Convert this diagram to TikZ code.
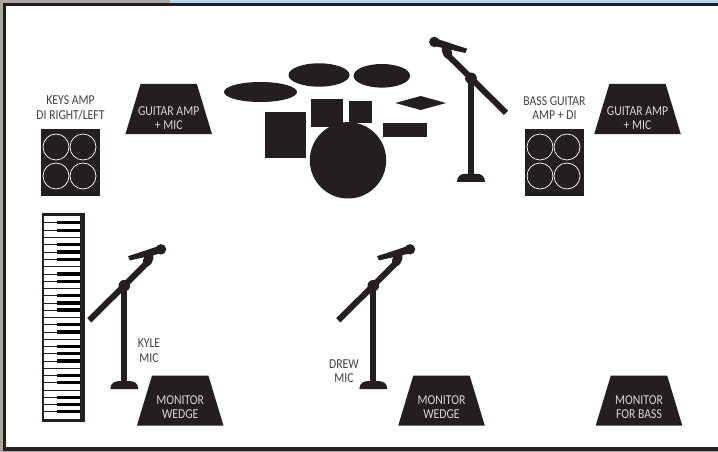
\documentclass[tikz,border=0pt]{standalone}
\usepackage{fontspec}
\usepackage{xcolor}
\usepackage{tikz}
\usetikzlibrary{positioning}
\usetikzlibrary{shapes.geometric}
\setmainfont{Carlito}
\definecolor{ink}{HTML}{231F20}
\definecolor{wall}{HTML}{A9A6A4}
\definecolor{sky}{HTML}{B9D3E6}
\definecolor{wedgetxt}{HTML}{D8D6D6}
\tikzset{
	wedge/.style={trapezium, fill=ink, inner sep=1pt, trapezium left angle=75, trapezium right angle=75, trapezium stretches=true, minimum width=86.5pt, minimum height=50pt},
	wedgetext/.style={align=center, text=wedgetxt, font=\fontsize{13.6}{14}\selectfont, xscale=0.86, inner sep=0},
	tag/.style={align=center, text=ink!85, font=\fontsize{13.6}{14.5}\selectfont, xscale=0.86, inner sep=0},
	kit/.style={fill=ink, draw=none},
	cone/.style={draw=white, line width=0.7pt},
	micstand/.pic={
		\fill[ink] (-14,103.5) .. controls (-14,97) and (-9,95.5) .. (-6,95.5) -- (6,95.5) .. controls (9,95.5) and (14,97) .. (14,103.5) -- cycle;
		\draw[ink, line width=6pt] (0,0) -- (0,100);
		\draw[ink, line width=6pt] (-35,34.6) -- (24,-24);
		\fill[ink] (0,0) circle (5.8);
		\draw[ink, line width=9pt, line cap=round] (25,-29) -- (23,-24);
		\fill[ink] (36.7,-36.4) circle (5.2);
		\fill[ink] (35.5,-40) -- (37.8,-32.5) -- (5.6,-25.3) -- (3.8,-29.5) -- cycle;
	}
}

\begin{document}
\begin{tikzpicture}[x=1pt, y=-1pt]
\useasboundingbox (0,0) rectangle (718,452);
\fill[wall] (0,0) rectangle (718,452);
\fill[sky] (170,0) rectangle (718,4);
\fill[ink] (2.5,3.3) rectangle (718,451);
\fill[white] (6,6) rectangle (718,447);

% speakers
\foreach \nm/\x in {keys/41, bass/525}
	{\fill[ink] (\x,129) rectangle (\x+59,196);
	\foreach \cx in {15,42}
		\foreach \cy in {147,176}
			\draw[cone] (\x+\cx,\cy) circle (13);}
\node[tag](keystext) at (70.5,108) {KEYS AMP\\DI RIGHT/LEFT};
\node[tag](basstext) at (554.5,108) {BASS GUITAR\\AMP + DI};

% wedges
\node[wedge](amp1) at (168.7,109) {};
\node[wedge](amp2) at (637.5,109) {};
\node[wedge](mon1) at (180.2,400.5) {};
\node[wedge](mon2) at (441.5,400.5) {};
\node[wedge](mon3) at (639,400.5) {};
\node[wedgetext](amp1text) at (168.7,118) {GUITAR AMP\\+ MIC};
\node[wedgetext](amp2text) at (637.5,118) {GUITAR AMP\\+ MIC};
\node[wedgetext](mon1text) at (180.2,407.5) {MONITOR\\WEDGE};
\node[wedgetext](mon2text) at (441.5,407.5) {MONITOR\\WEDGE};
\node[wedgetext](mon3text) at (639,407.5) {MONITOR\\FOR BASS};

% drums
\fill[kit] (260.5,92) ellipse (36.5 and 10);
\fill[kit] (319,75) ellipse (30.5 and 11.7);
\fill[kit] (381.8,75.8) ellipse (28.3 and 11.8);
\fill[kit] (395.3,103) -- (420.7,96) -- (446,103) -- (420.7,110) -- cycle;
\fill[kit] (265,112) rectangle (306,158);
\fill[kit] (311,99) rectangle (343,126.7);
\fill[kit] (349,101) rectangle (372,123);
\fill[kit] (383,123) rectangle (427,137);
\fill[kit] (348,160.3) circle (38.2);

% keyboard
\fill[ink] (42.3,213.3) rectangle (85.3,421.7);
\fill[white] (43.7,216) rectangle (80,418.7);
\foreach \z in {98,185,250,337,403,489,555}
	\draw[ink, line width=0.7pt] (43.7,205+\z/3) -- (80,205+\z/3);
\foreach \z in {53,76,119,141,163,207,229,272,294,315,359,381,424,446,468,511,533,577,598,620}
	{\draw[ink, line width=0.7pt] (43.7,205+\z/3) -- (57.3,205+\z/3);
	\fill[black] (57.3,205+\z/3-1.8) rectangle (80,205+\z/3+1.8);}

% mics
\pic[xscale=-1] (stand1) at (471,78.3) {micstand};
\pic (stand2) at (124.3,285.7) {micstand};
\pic (stand3) at (373.3,285.7) {micstand};
\node[tag](kyletext) at (149,350.5) {KYLE\\MIC};
\node[tag](drewtext) at (344,371) {DREW\\MIC};
\end{tikzpicture}
\end{document}
